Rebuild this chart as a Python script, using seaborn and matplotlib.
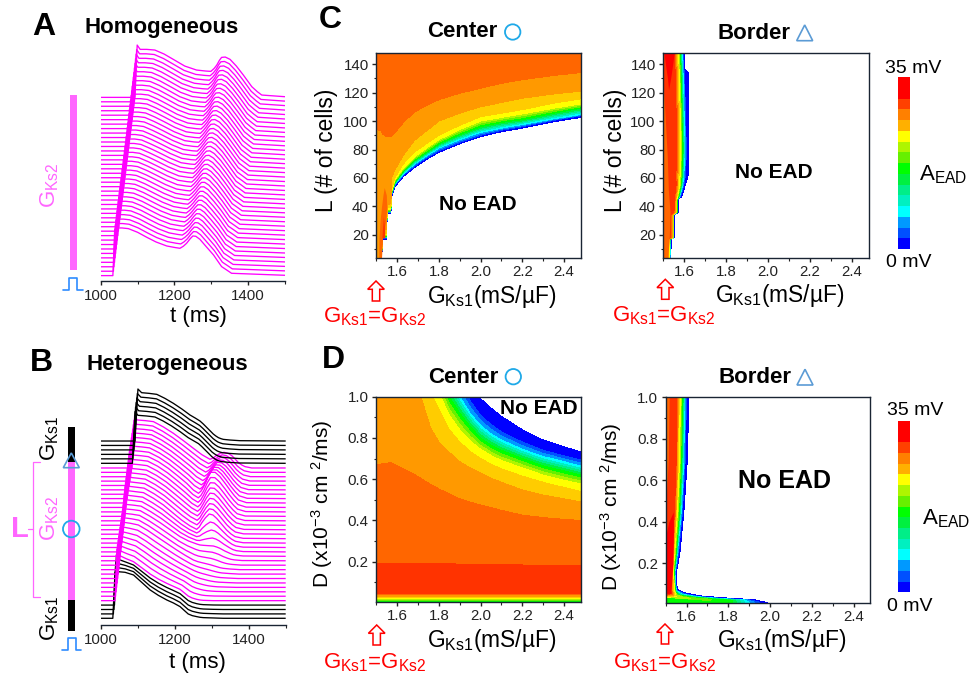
# EAD amplitude figure: stacked action potentials (A, B) and A_EAD band maps (C, D)
import numpy as np
import matplotlib
matplotlib.use("Agg")
import matplotlib.pyplot as plt
from matplotlib.colors import ListedColormap
from matplotlib.patches import Circle, Polygon
from matplotlib.ticker import FormatStrFormatter, MultipleLocator
import seaborn as sns

W, H = 969, 674

MAGENTA = "#FF00FF"
PINK = "#FF66FF"
RED = "#FF0000"
CIRCLE_BLUE = "#1FA9E8"
TRI_BLUE = "#5B9BD5"
PULSE_BLUE = "#2E8BFF"

band_colors = ["#0000FF", "#0050FF", "#0099FF", "#00FFFF", "#00F0C0", "#00EE88", "#00F040", "#00FF00",
               "#66F000", "#AEF500", "#FFFF00", "#FFCC00", "#FF9900", "#FF6600", "#FF3300", "#FF0000"]
bar_colors = ["#0000FF", "#0050FF", "#0099FF", "#00FFFF", "#00F0C0", "#00EE88", "#00F040", "#00FF00",
              "#66F000", "#AEF500", "#FFFF00", "#FFB000", "#FF8000", "#FF4000", "#FF0000", "#FF0000"]
band_levels = list(range(17))

# Panel A: key traces, feature points in ms and stacked height
a_keys = [0, 20, 40]
a_t = [
    [1000, 1033, 1038, 1045, 1058, 1075, 1100, 1125, 1150, 1179, 1203, 1215, 1224, 1233, 1243, 1250, 1258, 1269, 1287, 1306, 1328, 1343, 1355, 1500],
    [1000, 1063, 1069, 1076, 1092, 1111, 1136, 1161, 1190, 1220, 1245, 1258, 1266, 1274, 1282, 1289, 1298, 1310, 1328, 1346, 1369, 1384, 1396, 1500],
    [1000, 1093, 1099, 1107, 1125, 1147, 1172, 1197, 1228, 1260, 1285, 1299, 1308, 1315, 1322, 1328, 1338, 1351, 1368, 1387, 1410, 1425, 1437, 1500],
]
a_h = [
    [16, 16, 155, 159, 159, 157, 146, 131, 117, 105, 100, 98, 104, 113, 127, 135, 134, 125, 102, 78, 43, 32, 23, 17],
    [283, 283, 433, 426, 426, 423, 411, 398, 382, 368, 364, 363, 372, 383, 395, 403, 404, 396, 375, 348, 313, 301, 291, 285],
    [551, 551, 708, 695, 695, 693, 681, 665, 645, 633, 630, 629, 638, 648, 662, 671, 672, 665, 645, 618, 583, 568, 558, 553],
]

# Panel B: key traces
b_keys = [0, 4, 11, 14, 18, 26, 34, 35, 40]
b_t = [
    [1000, 1032, 1038, 1044, 1065, 1088, 1110, 1133, 1155, 1178, 1196, 1214, 1225, 1236, 1247, 1259, 1268, 1277, 1290, 1304, 1317, 1331, 1358, 1500],
    [1000, 1038, 1043, 1051, 1068, 1088, 1110, 1133, 1155, 1178, 1196, 1214, 1225, 1236, 1247, 1259, 1268, 1277, 1290, 1304, 1317, 1331, 1358, 1500],
    [1000, 1048, 1055, 1062, 1080, 1101, 1126, 1151, 1178, 1205, 1228, 1250, 1262, 1273, 1284, 1295, 1304, 1313, 1322, 1331, 1340, 1349, 1376, 1500],
    [1000, 1052, 1060, 1067, 1086, 1106, 1133, 1160, 1187, 1214, 1237, 1259, 1268, 1277, 1290, 1304, 1313, 1322, 1335, 1349, 1358, 1367, 1385, 1500],
    [1000, 1058, 1065, 1072, 1093, 1115, 1142, 1169, 1194, 1218, 1240, 1259, 1266, 1273, 1283, 1293, 1303, 1313, 1327, 1340, 1352, 1363, 1385, 1500],
    [1000, 1069, 1077, 1084, 1106, 1128, 1155, 1182, 1207, 1232, 1250, 1264, 1271, 1279, 1288, 1297, 1309, 1322, 1336, 1349, 1361, 1372, 1394, 1500],
    [1000, 1084, 1091, 1098, 1120, 1142, 1169, 1196, 1223, 1250, 1273, 1295, 1304, 1313, 1323, 1333, 1344, 1354, 1363, 1372, 1381, 1390, 1408, 1500],
    [1000, 1085, 1092, 1100, 1123, 1146, 1168, 1191, 1214, 1236, 1250, 1264, 1273, 1282, 1291, 1300, 1306, 1313, 1320, 1327, 1336, 1345, 1372, 1500],
    [1000, 1092, 1100, 1110, 1130, 1151, 1173, 1196, 1219, 1241, 1255, 1268, 1277, 1286, 1295, 1304, 1311, 1318, 1325, 1331, 1340, 1349, 1376, 1500],
]
b_h = [
    [20, 20, 158, 160, 158, 150, 128, 105, 89, 75, 66, 55, 44, 33, 28, 25, 23, 22, 21.5, 21, 20.5, 20, 20, 20],
    [73, 73, 228, 208, 199, 190, 172, 153, 138, 125, 116, 107, 97, 87, 81, 77, 75, 74, 73.5, 73, 73, 73, 73, 73],
    [166, 166, 320, 308, 305, 300, 284, 265, 245, 225, 209, 195, 190, 187, 184, 181, 178, 175, 172, 170, 169, 168, 166, 166],
    [206, 206, 360, 348, 346, 343, 326, 307, 286, 265, 252, 243, 240, 239, 238, 237, 234, 230, 222, 215, 211, 209, 207, 206],
    [259, 259, 415, 403, 400, 397, 380, 360, 337, 315, 298, 287, 294, 307, 322, 333, 330, 320, 302, 285, 273, 265, 260, 259],
    [366, 366, 522, 510, 508, 505, 490, 470, 448, 425, 405, 395, 402, 417, 441, 458, 458, 445, 425, 405, 388, 375, 367, 366],
    [471, 471, 627, 615, 613, 610, 594, 575, 553, 530, 511, 497, 501, 509, 515, 518, 515, 508, 498, 487, 480, 475, 471, 471],
    [485, 485, 640, 629, 627, 624, 612, 597, 580, 562, 553, 544, 535, 525, 515, 505, 500, 495, 492, 490, 489, 488, 486, 485],
    [552, 552, 708, 697, 695, 692, 680, 665, 648, 630, 621, 612, 603, 593, 583, 573, 567, 562, 559, 557, 556, 555, 553, 552],
]

# Panel C center: L at which each band edge sits, for each GKs1
cc_g = [1.50, 1.525, 1.53, 1.55, 1.552, 1.57, 1.573, 1.59, 1.63, 1.68, 1.74, 1.8, 1.9, 2.0, 2.1, 2.2, 2.35, 2.48]
cc_z = [0, 1, 3, 7, 10, 11, 12, 13, 13.9]
cc_l = [
    [0, 0, 17, 17, 35, 35, 47, 54, 61, 67, 73, 78, 84, 89, 92.5, 95, 99.5, 102.5],
    [.6, .6, 17.6, 17.6, 35.6, 35.6, 48, 55, 62, 68, 74, 79, 85, 90, 93.5, 96, 100.5, 103.7],
    [1.2, 1.2, 18.2, 18.2, 36.2, 36.2, 48.5, 56, 63, 69.5, 75.5, 81, 87, 92, 95, 97.5, 101.5, 104.6],
    [2, 2, 19, 19, 37, 37, 49.5, 57, 65, 72, 78, 84, 90.5, 96, 99, 101, 105.5, 109],
    [2.5, 2.5, 20, 20, 38, 38, 50.5, 59, 67, 74.5, 81, 87, 94, 100, 102.5, 105, 109, 112],
    [3, 3, 21, 21, 39, 39, 52, 60.5, 70, 78, 84, 90, 97, 103, 105.5, 108, 112.5, 115.6],
    [3.5, 3.5, 24, 24, 41, 42, 60, 66, 76, 86, 93, 100, 105.5, 110, 113, 116, 119, 121],
    [94, 93, 91, 89, 89, 89, 89.5, 92, 99, 106, 111, 115, 119.5, 123, 126.5, 129, 132, 134],
    [170] * 18,
]
cc_lobe_l = [4, 18, 30, 40, 48, 53.3]
cc_lobe_left = [1.512, 1.513, 1.518, 1.525, 1.532, 1.538]
cc_lobe_right = [1.525, 1.53, 1.546, 1.55, 1.548, 1.538]
cc_core_l = [18, 25, 33]
cc_core_left = [1.527, 1.53, 1.534]
cc_core_right = [1.541, 1.54, 1.534]

# Panel C border: GKs1 of each band edge, for each L
cb_l = [0, 17, 18, 34, 36, 45, 47, 55, 62, 80, 100, 134, 136, 150]
cb_z = [0, 1, 3, 7, 10, 11, 12, 13, 14, 14.9]
cb_g = [
    [1.535, 1.538, 1.553, 1.553, 1.572, 1.572, 1.588, 1.605, 1.619, 1.619, 1.619, 1.619, 1.603, 1.600],
    [1.533, 1.536, 1.551, 1.551, 1.570, 1.570, 1.582, 1.598, 1.606, 1.610, 1.606, 1.601, 1.598, 1.595],
    [1.531, 1.534, 1.550, 1.550, 1.568, 1.568, 1.578, 1.592, 1.598, 1.603, 1.600, 1.594, 1.593, 1.590],
    [1.529, 1.531, 1.548, 1.548, 1.566, 1.566, 1.573, 1.584, 1.588, 1.592, 1.589, 1.584, 1.583, 1.580],
    [1.527, 1.529, 1.546, 1.546, 1.564, 1.564, 1.568, 1.578, 1.580, 1.583, 1.581, 1.576, 1.575, 1.573],
    [1.525, 1.527, 1.544, 1.544, 1.561, 1.562, 1.565, 1.574, 1.575, 1.579, 1.577, 1.572, 1.571, 1.568],
    [1.523, 1.525, 1.542, 1.542, 1.558, 1.559, 1.562, 1.570, 1.570, 1.574, 1.572, 1.567, 1.566, 1.563],
    [1.520, 1.522, 1.539, 1.539, 1.555, 1.556, 1.558, 1.566, 1.565, 1.569, 1.567, 1.562, 1.561, 1.558],
    [1.516, 1.518, 1.535, 1.535, 1.551, 1.552, 1.554, 1.561, 1.560, 1.564, 1.562, 1.557, 1.556, 1.553],
    [1.49] * 14,
]
cb_strip_l = [4, 16, 36, 52, 75, 100, 125]
cb_strip_right = [1.52, 1.528, 1.532, 1.524, 1.519, 1.51, 1.50]
cb_red_l = [122, 130, 140, 148]
cb_red_left = [1.525, 1.52, 1.51, 1.503]
cb_red_right = [1.525, 1.535, 1.545, 1.552]

# Panel D center: D at which each band edge sits, for each GKs1
dc_g = [1.5, 1.57, 1.66, 1.72, 1.76, 1.8, 1.85, 1.9, 1.95, 2.0, 2.05, 2.1, 2.2, 2.3, 2.4, 2.48]
dc_z = [6.5, 10, 11, 12, 13, 14, 14.5, 14, 13, 12, 11, 10, 7, 3, 1, 0]
dc_d = [
    [.006] * 16,
    [.022] * 16,
    [.027] * 16,
    [.033] * 16,
    [.040] * 16,
    [.047] * 16,
    [.10] * 16,
    [.193, .193, .192, .19, .19, .19, .19, .188, .188, .187, .186, .186, .184, .183, .182, .182],
    [.67, .68, .636, .60, .575, .553, .528, .505, .489, .475, .462, .449, .426, .414, .405, .40],
    [2.0, 1.7, 1.2, .98, .85, .78, .73, .685, .655, .63, .605, .585, .548, .523, .505, .49],
    [2.2, 1.9, 1.4, 1.12, 1.02, .94, .84, .78, .735, .70, .673, .65, .615, .585, .56, .54],
    [2.3, 2.0, 1.6, 1.3, 1.15, 1.02, .91, .84, .785, .745, .715, .69, .655, .62, .595, .577],
    [2.4, 2.1, 1.7, 1.4, 1.25, 1.12, 1.0, .92, .855, .80, .765, .74, .70, .665, .64, .62],
    [2.5, 2.2, 1.8, 1.5, 1.35, 1.22, 1.1, 1.0, .92, .86, .82, .79, .745, .71, .685, .664],
    [2.6, 2.3, 1.9, 1.6, 1.42, 1.3, 1.17, 1.07, .98, .91, .865, .83, .78, .74, .713, .693],
    [2.7, 2.4, 2.0, 1.7, 1.5, 1.38, 1.25, 1.14, 1.06, .99, .945, .905, .84, .79, .757, .733],
]

# Panel D border: band edges follow the spur at low D, then run upward
db_z = [0, 1, 3, 7, 10, 11, 12, 13, 14, 14.9]
db_g = [
    [1.99, 1.925, 1.79, 1.68, 1.60, 1.56, 1.550, 1.552, 1.568, 1.587, 1.603, 1.612],
    [1.95, 1.90, 1.77, 1.66, 1.59, 1.555, 1.548, 1.548, 1.562, 1.580, 1.593, 1.600],
    [1.90, 1.88, 1.76, 1.65, 1.58, 1.552, 1.546, 1.544, 1.556, 1.574, 1.586, 1.592],
    [1.82, 1.82, 1.72, 1.63, 1.56, 1.547, 1.543, 1.540, 1.55, 1.565, 1.575, 1.581],
    [1.5, 1.52, 1.535, 1.55, 1.548, 1.542, 1.540, 1.535, 1.543, 1.556, 1.566, 1.571],
    [1.5, 1.52, 1.535, 1.545, 1.542, 1.538, 1.537, 1.532, 1.540, 1.552, 1.561, 1.565],
    [1.5, 1.515, 1.53, 1.54, 1.538, 1.534, 1.534, 1.529, 1.537, 1.549, 1.557, 1.561],
    [1.5, 1.51, 1.525, 1.534, 1.533, 1.53, 1.530, 1.526, 1.534, 1.546, 1.553, 1.557],
    [1.5, 1.505, 1.515, 1.525, 1.526, 1.525, 1.525, 1.525, 1.530, 1.542, 1.550, 1.553],
    [1.49] * 12,
]
db_d = [
    [.01, .024, .033, .041, .055, .07, .1, .16, .25, .447, .69, 1.02],
    [.012, .024, .031, .04, .053, .068, .1, .16, .25, .447, .69, 1.02],
    [.012, .023, .030, .039, .05, .066, .1, .16, .25, .447, .69, 1.02],
    [.012, .021, .028, .036, .046, .062, .1, .16, .25, .447, .69, 1.02],
    [.036, .037, .038, .04, .048, .065, .1, .16, .25, .447, .69, 1.02],
    [.04, .041, .042, .044, .05, .065, .1, .16, .25, .447, .69, 1.02],
    [.043, .044, .045, .047, .052, .063, .1, .16, .25, .447, .69, 1.02],
    [.046, .047, .048, .05, .054, .063, .1, .16, .25, .447, .69, 1.02],
    [.05, .05, .051, .053, .056, .063, .1, .16, .25, .447, .69, 1.02],
    [.05, .05, .051, .053, .056, .063, .1, .16, .25, .447, .69, 1.02],
]
db_core_g = [1.5, 1.6, 1.7, 1.82]
db_core_top = [.036, .033, .03, .02]
db_strip_d = [.45, .7, 1.0]
db_strip_right = [1.50, 1.512, 1.517]
db_red_d = [.055, .1, .2, .33, .40, .447]
db_red_left = [1.5, 1.5, 1.5, 1.5, 1.515, 1.536]
db_red_right = [1.525, 1.528, 1.535, 1.537, 1.537, 1.536]


def px_axes(fig, left, top, right, bottom):
    return fig.add_axes([left / W, 1 - bottom / H, (right - left) / W, (bottom - top) / H])


def trace_panel(fig, box, ymax, keys, t_rows, h_rows, colors):
    ax = px_axes(fig, *box)
    n = keys[-1]
    levels = [0.01] + list(range(1, n)) + [n - 0.01]
    x = np.array(t_rows, dtype=float)
    y = np.array(h_rows, dtype=float)
    z = np.tile(np.array(keys, dtype=float)[:, None], (1, x.shape[1]))
    ax.contour(x, y, z, levels=levels, colors=colors, linewidths=0.95)
    ax.set_xlim(1000, 1500)
    ax.set_ylim(0, ymax)
    ax.set_xticks([1000, 1200, 1400])
    ax.xaxis.set_minor_locator(MultipleLocator(100))
    ax.set_yticks([])
    ax.patch.set_alpha(0)
    sns.despine(ax=ax, left=True)
    return ax


def map_panel(fig, box, xlim, ylim, xmajor, ymajor, yminor, yfmt):
    ax = px_axes(fig, *box)
    ax.set_xlim(*xlim)
    ax.set_ylim(*ylim)
    ax.xaxis.set_major_locator(MultipleLocator(xmajor))
    ax.xaxis.set_minor_locator(MultipleLocator(xmajor / 2))
    ax.xaxis.set_major_formatter(FormatStrFormatter("%.1f"))
    ax.yaxis.set_major_locator(MultipleLocator(ymajor))
    ax.yaxis.set_minor_locator(MultipleLocator(yminor))
    ax.yaxis.set_major_formatter(FormatStrFormatter(yfmt))
    for side in ax.spines.values():
        side.set_linewidth(1.0)
        side.set_color("#1a2433")
    return ax


def bands(ax, x, y, z):
    ax.contourf(x, y, z, levels=band_levels, colors=band_colors)


def over_x(rows_y, col_x, z_vals):
    y = np.array(rows_y, dtype=float)
    x = np.tile(np.array(col_x, dtype=float), (y.shape[0], 1))
    z = np.tile(np.array(z_vals, dtype=float)[:, None], (1, y.shape[1]))
    return x, y, z


def over_y(rows_x, col_y, z_vals):
    x = np.array(rows_x, dtype=float)
    y = np.tile(np.array(col_y, dtype=float), (x.shape[0], 1))
    z = np.tile(np.array(z_vals, dtype=float)[:, None], (1, x.shape[1]))
    return x, y, z


def color_bar(fig, left, top, right, bottom):
    ax = px_axes(fig, left, top, right, bottom)
    steps = np.arange(len(bar_colors))[::-1].reshape(-1, 1)
    sns.heatmap(steps, cmap=ListedColormap(bar_colors), cbar=False, xticklabels=False, yticklabels=False,
                vmin=-0.5, vmax=len(bar_colors) - 0.5, ax=ax)


def up_arrow(ov, cx, tip):
    shape = [(cx, tip), (cx + 8.3, tip + 8.3), (cx + 3.7, tip + 8.3), (cx + 3.7, tip + 20),
             (cx - 3.7, tip + 20), (cx - 3.7, tip + 8.3), (cx - 8.3, tip + 8.3)]
    ov.add_patch(Polygon(shape, closed=True, fc="white", ec=RED, lw=1.1))


def triangle(ov, cx, top, half, base, color=TRI_BLUE, lw=1.2):
    ov.add_patch(Polygon([(cx, top), (cx + half, base), (cx - half, base)], closed=True, fill=False, ec=color, lw=lw))


def main():
    sns.set_theme(style="ticks")
    plt.rcParams["font.family"] = ["Liberation Sans", "DejaVu Sans"]
    plt.rcParams["mathtext.default"] = "regular"
    plt.rcParams.update({
        "axes.edgecolor": "#1a2433", "axes.linewidth": 1.0,
        "xtick.color": "#222222", "ytick.color": "#222222",
        "xtick.labelsize": 10.8, "ytick.labelsize": 10.8,
        "xtick.major.size": 3, "ytick.major.size": 3,
        "xtick.minor.size": 1.8, "ytick.minor.size": 1.8,
        "xtick.major.width": 1, "ytick.major.width": 1,
        "xtick.minor.width": 0.8, "ytick.minor.width": 0.8,
        "xtick.major.pad": 2.5, "ytick.major.pad": 2.5,
    })
    fig = plt.figure(figsize=(W / 100, H / 100), dpi=100, facecolor="white")

    # Traces
    trace_panel(fig, (100.7, 41, 285, 281), 720, a_keys, a_t, a_h, MAGENTA)
    b_colors = ["black"] * 4 + [MAGENTA] * 31 + ["black"] * 6
    trace_panel(fig, (101, 383.3, 285.7, 625), 725, b_keys, b_t, b_h, b_colors)

    # C center
    ax = map_panel(fig, (376.3, 52.7, 580.7, 257.7), (1.5, 2.48), (4, 148), 0.2, 20, 10, "%d")
    bands(ax, *over_x(cc_l, cc_g, cc_z))
    ax.fill_betweenx(cc_lobe_l, cc_lobe_left, cc_lobe_right, color="#FF6600", lw=0)
    ax.fill_betweenx(cc_core_l, cc_core_left, cc_core_right, color="#FF3300", lw=0)

    # C border
    ax = map_panel(fig, (663.3, 52.7, 868.7, 257.7), (1.5, 2.48), (4, 148), 0.2, 20, 10, "%d")
    bands(ax, *over_y(cb_g, cb_l, cb_z))
    ax.fill_betweenx(cb_strip_l, 1.5, cb_strip_right, color="#FF6600", lw=0)
    ax.fill_betweenx(cb_red_l, cb_red_left, cb_red_right, color="#FF0000", lw=0)

    # D center
    ax = map_panel(fig, (376.3, 396.7, 580.7, 601.7), (1.5, 2.48), (.006, 1.0), 0.2, 0.2, 0.1, "%.1f")
    bands(ax, *over_x(dc_d, dc_g, dc_z))

    # D border
    ax = map_panel(fig, (665.7, 397.3, 870.3, 602.7), (1.5, 2.48), (.01, 1.0), 0.2, 0.2, 0.1, "%.1f")
    ax.fill_between(db_core_g, .005, db_core_top, color="#00FF00", lw=0)
    x = np.array(db_g, dtype=float)
    y = np.array(db_d, dtype=float)
    z = np.tile(np.array(db_z, dtype=float)[:, None], (1, x.shape[1]))
    bands(ax, x, y, z)
    ax.fill_betweenx(db_strip_d, 1.5, db_strip_right, color="#FF6600", lw=0)
    ax.fill_betweenx(db_red_d, db_red_left, db_red_right, color="#FF0000", lw=0)

    color_bar(fig, 898.3, 77.3, 910, 249)
    color_bar(fig, 898.3, 420.7, 910, 592.3)

    # Everything else is placed in pixel coordinates on a clear overlay
    ov = fig.add_axes([0, 0, 1, 1], zorder=10)
    ov.set_xlim(0, W)
    ov.set_ylim(H, 0)
    ov.axis("off")

    def txt(x, y, s, size=16.4, color="black", weight="normal", ha="left", va="baseline", rot=0):
        ov.text(x, y, s, fontsize=size, color=color, fontweight=weight, ha=ha, va=va, rotation=rot,
                rotation_mode="anchor" if rot == 0 else "default")

    # Panel letters and titles
    txt(32, 35, "A", 23, weight="bold")
    txt(30, 371, "B", 23, weight="bold")
    txt(319, 28, "C", 23, weight="bold")
    txt(322, 368, "D", 23, weight="bold")
    txt(85, 33, "Homogeneous", 16, weight="bold")
    txt(86.7, 370, "Heterogeneous", 16, weight="bold")
    txt(427.3, 37, "Center", 16, weight="bold")
    txt(717.3, 39, "Border", 16, weight="bold")
    txt(428, 382.7, "Center", 16, weight="bold")
    txt(718.3, 383.3, "Border", 16, weight="bold")
    ov.add_patch(Circle((512.7, 32), 7.7, fill=False, ec=CIRCLE_BLUE, lw=1.3))
    ov.add_patch(Circle((513.3, 376.7), 7.7, fill=False, ec=CIRCLE_BLUE, lw=1.3))
    triangle(ov, 804.7, 25, 8, 40.7)
    triangle(ov, 805, 369.3, 8, 385)

    # t axis labels
    txt(198, 321.7, "t (ms)", 16, ha="center")
    txt(197, 668, "t (ms)", 16, ha="center")

    # Map axis labels
    gks_label = r"G$_{Ks1}$(mS/µF)"
    txt(426.7, 303.3, gks_label)
    txt(715, 301.7, gks_label)
    txt(426.7, 646.7, gks_label)
    txt(716.7, 646.7, gks_label)
    txt(326.7, 150, "L (# of cells)", 16.4, ha="center", va="center", rot=90)
    txt(616, 150, "L (# of cells)", 16.4, ha="center", va="center", rot=90)
    d_label = r"D (x10$^{-3}$ cm $^{2}$/ms)"
    txt(321.7, 504, d_label, 15, ha="center", va="center", rot=90)
    txt(611, 507, d_label, 15, ha="center", va="center", rot=90)

    # No EAD
    txt(478, 204, "No EAD", 15, weight="bold", ha="center", va="center")
    txt(773.5, 173, "No EAD", 15, weight="bold", ha="center", va="center")
    txt(538.5, 408.5, "No EAD", 15, weight="bold", ha="center", va="center")
    txt(784.5, 480.5, "No EAD", 18, weight="bold", ha="center", va="center")

    # GKs1 = GKs2 arrows
    eq_label = r"G$_{Ks1}$=G$_{Ks2}$"
    for cx, tip, lx, ly in [(376, 281, 323, 322), (665.3, 279.3, 611.7, 321),
                            (376.7, 625, 322.7, 668), (665, 624, 613, 668)]:
        up_arrow(ov, cx, tip)
        txt(lx, ly, eq_label, 16, color=RED)

    # Colour bar labels
    txt(912.7, 72.7, "35 mV", 14, ha="center")
    txt(909, 266.7, "0 mV", 14, ha="center")
    txt(919, 180, r"A$_{EAD}$", 16)
    txt(915, 415, "35 mV", 14, ha="center")
    txt(909.3, 610.7, "0 mV", 14, ha="center")
    txt(922.3, 524, r"A$_{EAD}$", 16)

    # Panel A cable
    ov.fill_between([70, 77], 95, 270, color=PINK, lw=0)
    ov.plot([63.3, 69, 69, 77.3, 77.3, 83.3], [290, 290, 278.3, 278.3, 290, 290], color=PULSE_BLUE, lw=1.2)
    txt(50, 185, r"G$_{Ks2}$", 16, color=PINK, ha="center", va="center", rot=90)

    # Panel B cable
    ov.fill_between([68, 75], 427, 462, color="black", lw=0)
    ov.fill_between([68, 75], 462, 600, color=PINK, lw=0)
    ov.fill_between([68, 75], 600, 631, color="black", lw=0)
    triangle(ov, 71.3, 453, 8, 467.7, lw=1.2)
    ov.add_patch(Circle((71.3, 529), 8.3, fill=False, ec=CIRCLE_BLUE, lw=1.3))
    ov.plot([61.7, 67.7, 67.7, 76, 76, 81], [650, 650, 638.3, 638.3, 650, 650], color=PULSE_BLUE, lw=1.2)
    ov.plot([40, 33.3, 33.3, 40], [462.3, 462.3, 597.3, 597.3], color=PINK, lw=0.9)
    ov.plot([28.3, 33.3], [529, 529], color=PINK, lw=0.9)
    txt(20, 529, "L", 21, color=PINK, weight="bold", ha="center", va="center")
    txt(50, 438, r"G$_{Ks1}$", 16, ha="center", va="center", rot=90)
    txt(50, 518, r"G$_{Ks2}$", 16, color=PINK, ha="center", va="center", rot=90)
    txt(50, 618, r"G$_{Ks1}$", 16, ha="center", va="center", rot=90)

    fig.savefig("out.png", dpi=100)
    plt.close(fig)


main()
